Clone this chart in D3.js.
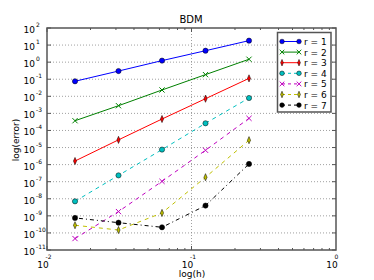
<html>
<head>
<script src="https://d3js.org/d3.v7.min.js"></script>
<style>
  body { margin: 0; background: #fff; }
  text { font-family: "DejaVu Sans", sans-serif; }
</style>
</head>
<body>
<svg width="374" height="280"></svg>
<script>
// mesh sizes and log10 of the error for each degree r
const hValues = [1/64, 1/32, 1/16, 1/8, 1/4];
const err1 = [-1.12, -0.52, 0.09, 0.67, 1.26];
const err2 = [-3.43, -2.55, -1.63, -0.73, 0.17];
const err3 = [-5.79, -4.55, -3.33, -2.14, -0.95];
const err4 = [-8.15, -6.63, -5.12, -3.58, -2.10];
const err5 = [-10.33, -8.75, -6.98, -5.16, -3.29];
const err6 = [-9.55, -9.83, -8.83, -6.74, -4.57];
const err7 = [-9.12, -9.40, -9.67, -8.40, -5.96];
const seriesNames = ["r = 1", "r = 2", "r = 3", "r = 4", "r = 5", "r = 6", "r = 7"];
const yTickExps = d3.range(-11, 3);
const xTickExps = [-2, -1, 0];

const allErr = [err1, err2, err3, err4, err5, err6, err7];
const colors = ["#0000ff", "#008000", "#ff0000", "#00bfbf", "#bf00bf", "#bfbf00", "#000000"];
const markers = ["circle", "x", "diamond", "circle", "x", "diamond", "circle"];
const dashes = [null, null, null, "4,4", "4,4", "4,4", "1,3,4,3"];

const pLeft = 47, pRight = 336, pTop = 28, pBottom = 250;
const svg = d3.select("svg");

const x = d3.scaleLog().domain([1e-2, 1]).range([pLeft, pRight]);
const y = d3.scaleLog().domain([1e-11, 1e2]).range([pBottom, pTop]);

// gridlines
yTickExps.forEach(function(e) {
  if (e === -11 || e === 2) return;
  svg.append("line").attr("x1", pLeft).attr("x2", pRight)
    .attr("y1", y(Math.pow(10, e))).attr("y2", y(Math.pow(10, e)))
    .attr("stroke", "#888").attr("stroke-width", 0.8).attr("stroke-dasharray", "1,2");
});
svg.append("line").attr("x1", x(0.1)).attr("x2", x(0.1)).attr("y1", pTop).attr("y2", pBottom)
  .attr("stroke", "#888").attr("stroke-width", 0.8).attr("stroke-dasharray", "1,2");

// ticks
const tickCol = "#555";
yTickExps.forEach(function(e) {
  const yy = y(Math.pow(10, e));
  svg.append("line").attr("x1", pLeft).attr("x2", pLeft + 4).attr("y1", yy).attr("y2", yy).attr("stroke", tickCol);
  svg.append("line").attr("x1", pRight - 4).attr("x2", pRight).attr("y1", yy).attr("y2", yy).attr("stroke", tickCol);
  svg.append("text").attr("x", 35).attr("y", yy + 5).attr("text-anchor", "end")
    .attr("font-size", 9).text("10");
  svg.append("text").attr("x", 36).attr("y", yy - 1).attr("font-size", 6).text(e < 0 ? "-" + (-e) : e);
});
for (let d = -2; d < 0; d++) {
  for (let k = 1; k < 10; k++) {
    const xx = x(k * Math.pow(10, d));
    const len = k === 1 ? 4 : 2;
    svg.append("line").attr("x1", xx).attr("x2", xx).attr("y1", pBottom).attr("y2", pBottom - len).attr("stroke", tickCol);
    svg.append("line").attr("x1", xx).attr("x2", xx).attr("y1", pTop).attr("y2", pTop + len).attr("stroke", tickCol);
  }
}
xTickExps.forEach(function(e) {
  const xx = x(Math.pow(10, e));
  svg.append("text").attr("x", xx - 4).attr("y", 267.5).attr("text-anchor", "middle").attr("font-size", 9).text("10");
  svg.append("text").attr("x", xx - 1.5).attr("y", 259).attr("font-size", 6).text(e < 0 ? "-" + (-e) : e);
});

// frame
svg.append("rect").attr("x", pLeft).attr("y", pTop).attr("width", pRight - pLeft).attr("height", pBottom - pTop)
  .attr("fill", "none").attr("stroke", tickCol).attr("stroke-width", 1.5);

function drawMarker(g, type, cx, cy, col, s) {
  if (type === "circle") {
    g.append("circle").attr("cx", cx).attr("cy", cy).attr("r", s)
      .attr("fill", col).attr("stroke", "#000").attr("stroke-width", 0.5);
  } else if (type === "x") {
    g.append("path").attr("d", "M" + (cx - s) + "," + (cy - s) + "L" + (cx + s) + "," + (cy + s) +
      "M" + (cx - s) + "," + (cy + s) + "L" + (cx + s) + "," + (cy - s))
      .attr("stroke", col).attr("stroke-width", 1);
  } else {
    g.append("path").attr("d", "M" + cx + "," + (cy - s - 1) + "L" + (cx + s * 0.6) + "," + cy +
      "L" + cx + "," + (cy + s + 1) + "L" + (cx - s * 0.6) + "," + cy + "Z")
      .attr("fill", col).attr("stroke", "#000").attr("stroke-width", 0.5);
  }
}

const line = d3.line().x(function(d) { return x(d[0]); }).y(function(d) { return y(d[1]); });
allErr.forEach(function(errs, i) {
  const pts = hValues.map(function(h, j) { return [h, Math.pow(10, errs[j])]; });
  svg.append("path").datum(pts).attr("d", line).attr("fill", "none")
    .attr("stroke", colors[i]).attr("stroke-width", 1)
    .attr("stroke-dasharray", dashes[i]);
  const g = svg.append("g");
  pts.forEach(function(p) { drawMarker(g, markers[i], x(p[0]), y(p[1]), colors[i], 2.6); });
});

// legend
svg.append("rect").attr("x", 277.5).attr("y", 32.5).attr("width", 53.5).attr("height", 79.5)
  .attr("fill", "#fff").attr("stroke", tickCol).attr("stroke-width", 1.5);
seriesNames.forEach(function(name, i) {
  const ly = 41.5 + i * 10.6;
  svg.append("line").attr("x1", 282).attr("x2", 299).attr("y1", ly).attr("y2", ly)
    .attr("stroke", colors[i]).attr("stroke-width", 1).attr("stroke-dasharray", dashes[i] ? "3,3" : null);
  const g = svg.append("g");
  drawMarker(g, markers[i], 282, ly, colors[i], 2.3);
  drawMarker(g, markers[i], 299, ly, colors[i], 2.3);
  svg.append("text").attr("x", 304).attr("y", ly + 3.5).attr("font-size", 9).text(name);
});

// title and labels
svg.append("text").attr("x", 191).attr("y", 23).attr("text-anchor", "middle").attr("font-size", 10).text("BDM");
svg.append("text").attr("x", 192).attr("y", 276.5).attr("text-anchor", "middle").attr("font-size", 9).text("log(h)");
svg.append("text").attr("transform", "translate(19,140) rotate(-90)").attr("text-anchor", "middle")
  .attr("font-size", 9).text("log(error)");
</script>
</body>
</html>
